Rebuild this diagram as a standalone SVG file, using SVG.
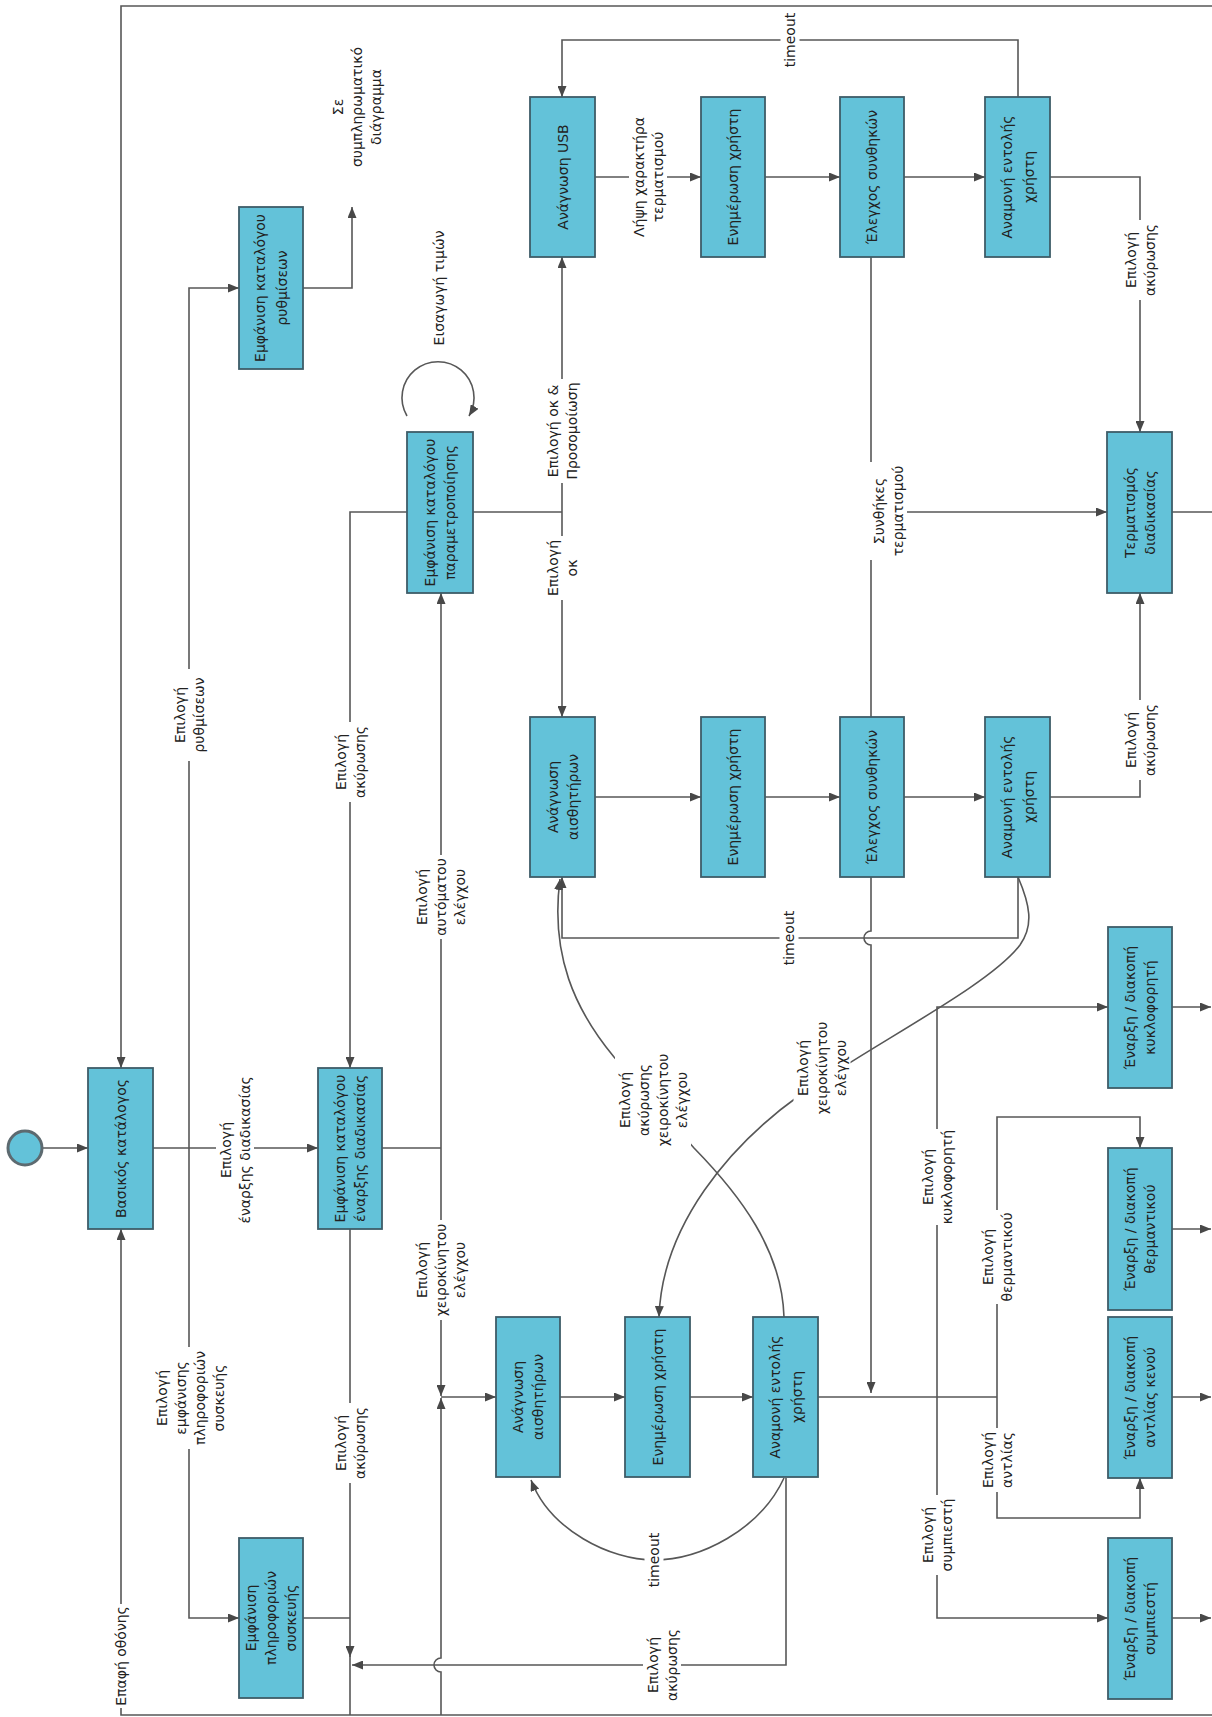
<svg xmlns="http://www.w3.org/2000/svg" width="1212" height="1717" viewBox="0 0 1212 1717">
<defs>
<style>
.box{fill:#63C2D9;stroke:#3E5C68;stroke-width:1.8}
.t{font-family:"DejaVu Sans",sans-serif;font-size:14px;fill:#222;text-anchor:middle}
.c{fill:none;stroke:#575757;stroke-width:1.6}
.a{marker-end:url(#ah)}
.bg{fill:#fff}
</style>
<marker id="ah" viewBox="0 0 11 9" refX="11" refY="4.5" markerWidth="11" markerHeight="9" markerUnits="userSpaceOnUse" orient="auto"><path d="M0,0 L11,4.5 L0,9 z" fill="#484848"/></marker>
</defs>
<rect width="1212" height="1717" fill="#fff"/>

<g id="connectors">
<path class="c a" d="M43,1148 H88"/>
<path class="c a" d="M153,1148 H318"/>
<path class="c a" d="M189,1148 V288 H239"/>
<path class="c a" d="M189,1148 V1618 H239"/>
<path class="c a" d="M303,288 H352 V207"/>
<path class="c a" d="M1212,6 H121 V1068"/>
<path class="c a" d="M1212,1715 H121 V1229"/>
<path class="c" d="M382,1148 H441"/>
<path class="c a" d="M441,1148 V593"/>
<path class="c a" d="M441,1148 V1396"/>
<path class="c a" d="M441,1715 V1672 A7,7 0 0 1 441,1658 V1398"/>
<path class="c a" d="M441,1397 H496"/>
<path class="c a" d="M407,512 H350 V1068"/>
<path class="c a" d="M350,1229 V1657"/>
<path class="c" d="M350,1655 V1715"/>
<path class="c" d="M303,1618 H350"/>
<path class="c a" d="M786,1478 V1665 H352"/>
<path class="c" d="M473,512 H562"/>
<path class="c a" d="M562,512 V257"/>
<path class="c a" d="M562,512 V717"/>
<path class="c a" d="M407,416 A36,36 0 1 1 469,416"/>
<path class="c a" d="M595,177 H701"/>
<path class="c a" d="M765,177 H840"/>
<path class="c a" d="M904,177 H985"/>
<path class="c a" d="M1018,97 V40 H562 V97"/>
<path class="c a" d="M1050,177 H1140 V432"/>
<path class="c a" d="M871,257 V512 H1107"/>
<path class="c" d="M871,717 V512"/>
<path class="c a" d="M595,797 H701"/>
<path class="c a" d="M765,797 H840"/>
<path class="c a" d="M904,797 H985"/>
<path class="c a" d="M1050,797 H1140 V593"/>
<path class="c a" d="M1018,877 V938 H562 V877"/>
<path class="c a" d="M871,877 V931 A7,7 0 0 0 871,945 V1393"/>
<path class="c a" d="M560,1397 H625"/>
<path class="c a" d="M690,1397 H753"/>
<path class="c" d="M818,1397 H997"/>
<path class="c a" d="M937,1397 V1007 H1108"/>
<path class="c a" d="M937,1397 V1618 H1108"/>
<path class="c a" d="M997,1397 V1117 H1140 V1148"/>
<path class="c a" d="M997,1397 V1518 H1140 V1478"/>
<path class="c a" d="M1172,1007 H1211"/>
<path class="c a" d="M1172,1229 H1211"/>
<path class="c a" d="M1172,1397 H1211"/>
<path class="c a" d="M1172,1618 H1211"/>
<path class="c" d="M1172,512 H1212"/>
<path class="c a" d="M1018,877 C1030,905 1034,925 1020,945 C990,985 880,1040 800,1095 C730,1145 662,1225 659,1317"/>
<path class="c a" d="M784,1317 C782,1250 740,1195 694,1148 L614,1057 C575,1010 550,955 560,879"/>
<path class="c a" d="M784,1478 C760,1530 700,1560 654,1560 C610,1560 550,1530 531,1480"/>
</g>

<g id="edge-labels">
<g transform="translate(189,715) rotate(-90)"><rect class="bg" x="-46" y="-19" width="92" height="38"/><text class="t"><tspan x="0" y="-4.5">Επιλογή</tspan><tspan x="0" y="14.5">ρυθμίσεων</tspan></text></g>
<g transform="translate(190,1398) rotate(-90)"><rect class="bg" x="-51" y="-38" width="102" height="76"/><text class="t"><tspan x="0" y="-23.5">Επιλογή</tspan><tspan x="0" y="-4.5">εμφάνισης</tspan><tspan x="0" y="14.5">πληροφοριών</tspan><tspan x="0" y="33.5">συσκευής</tspan></text></g>
<g transform="translate(235,1150) rotate(-90)"><rect class="bg" x="-78" y="-19" width="156" height="38"/><text class="t"><tspan x="0" y="-4.5">Επιλογή</tspan><tspan x="0" y="14.5">έναρξης διαδικασίας</tspan></text></g>
<g transform="translate(121,1656) rotate(-90)"><rect class="bg" x="-52" y="-9.5" width="104" height="19"/><text class="t"><tspan x="0" y="5">Επαφή οθόνης</tspan></text></g>
<g transform="translate(350,762) rotate(-90)"><rect class="bg" x="-40" y="-19" width="80" height="38"/><text class="t"><tspan x="0" y="-4.5">Επιλογή</tspan><tspan x="0" y="14.5">ακύρωσης</tspan></text></g>
<g transform="translate(350,1443) rotate(-90)"><rect class="bg" x="-40" y="-19" width="80" height="38"/><text class="t"><tspan x="0" y="-4.5">Επιλογή</tspan><tspan x="0" y="14.5">ακύρωσης</tspan></text></g>
<g transform="translate(441,897) rotate(-90)"><rect class="bg" x="-42" y="-28.5" width="84" height="57"/><text class="t"><tspan x="0" y="-14">Επιλογή</tspan><tspan x="0" y="5">αυτόματου</tspan><tspan x="0" y="24">ελέγχου</tspan></text></g>
<g transform="translate(441,1270) rotate(-90)"><rect class="bg" x="-50" y="-28.5" width="100" height="57"/><text class="t"><tspan x="0" y="-14">Επιλογή</tspan><tspan x="0" y="5">χειροκίνητου</tspan><tspan x="0" y="24">ελέγχου</tspan></text></g>
<g transform="translate(562,431) rotate(-90)"><rect class="bg" x="-52" y="-19" width="104" height="38"/><text class="t"><tspan x="0" y="-4.5">Επιλογή οκ &amp;</tspan><tspan x="0" y="14.5">Προσομοίωση</tspan></text></g>
<g transform="translate(562,568) rotate(-90)"><rect class="bg" x="-32" y="-19" width="64" height="38"/><text class="t"><tspan x="0" y="-4.5">Επιλογή</tspan><tspan x="0" y="14.5">οκ</tspan></text></g>
<g transform="translate(648,177) rotate(-90)"><rect class="bg" x="-61" y="-19" width="122" height="38"/><text class="t"><tspan x="0" y="-4.5">Λήψη χαρακτήρα</tspan><tspan x="0" y="14.5">τερματισμού</tspan></text></g>
<g transform="translate(790,40) rotate(-90)"><rect class="bg" x="-29" y="-9.5" width="58" height="19"/><text class="t"><tspan x="0" y="5">timeout</tspan></text></g>
<g transform="translate(1140,260) rotate(-90)"><rect class="bg" x="-40" y="-19" width="80" height="38"/><text class="t"><tspan x="0" y="-4.5">Επιλογή</tspan><tspan x="0" y="14.5">ακύρωσης</tspan></text></g>
<g transform="translate(888,511) rotate(-90)"><rect class="bg" x="-49" y="-19" width="98" height="38"/><text class="t"><tspan x="0" y="-4.5">Συνθήκες</tspan><tspan x="0" y="14.5">τερματισμού</tspan></text></g>
<g transform="translate(1140,740) rotate(-90)"><rect class="bg" x="-40" y="-19" width="80" height="38"/><text class="t"><tspan x="0" y="-4.5">Επιλογή</tspan><tspan x="0" y="14.5">ακύρωσης</tspan></text></g>
<g transform="translate(789,938) rotate(-90)"><rect class="bg" x="-29" y="-9.5" width="58" height="19"/><text class="t"><tspan x="0" y="5">timeout</tspan></text></g>
<g transform="translate(653,1100) rotate(-90)"><rect class="bg" x="-49" y="-38" width="98" height="76"/><text class="t"><tspan x="0" y="-23.5">Επιλογή</tspan><tspan x="0" y="-4.5">ακύρωσης</tspan><tspan x="0" y="14.5">χειροκίνητου</tspan><tspan x="0" y="33.5">ελέγχου</tspan></text></g>
<g transform="translate(822,1068) rotate(-90)"><rect class="bg" x="-49" y="-28.5" width="98" height="57"/><text class="t"><tspan x="0" y="-14">Επιλογή</tspan><tspan x="0" y="5">χειροκίνητου</tspan><tspan x="0" y="24">ελέγχου</tspan></text></g>
<g transform="translate(937,1177) rotate(-90)"><rect class="bg" x="-48" y="-19" width="96" height="38"/><text class="t"><tspan x="0" y="-4.5">Επιλογή</tspan><tspan x="0" y="14.5">κυκλοφορητή</tspan></text></g>
<g transform="translate(997,1257) rotate(-90)"><rect class="bg" x="-47" y="-19" width="94" height="38"/><text class="t"><tspan x="0" y="-4.5">Επιλογή</tspan><tspan x="0" y="14.5">θερμαντικού</tspan></text></g>
<g transform="translate(997,1460) rotate(-90)"><rect class="bg" x="-32" y="-19" width="64" height="38"/><text class="t"><tspan x="0" y="-4.5">Επιλογή</tspan><tspan x="0" y="14.5">αντλίας</tspan></text></g>
<g transform="translate(937,1535) rotate(-90)"><rect class="bg" x="-40" y="-19" width="80" height="38"/><text class="t"><tspan x="0" y="-4.5">Επιλογή</tspan><tspan x="0" y="14.5">συμπιεστή</tspan></text></g>
<g transform="translate(662,1665) rotate(-90)"><rect class="bg" x="-40" y="-19" width="80" height="38"/><text class="t"><tspan x="0" y="-4.5">Επιλογή</tspan><tspan x="0" y="14.5">ακύρωσης</tspan></text></g>
<g transform="translate(654,1560) rotate(-90)"><rect class="bg" x="-29" y="-9.5" width="58" height="19"/><text class="t"><tspan x="0" y="5">timeout</tspan></text></g>
<text class="t" transform="translate(439,288) rotate(-90)"><tspan x="0" y="5">Εισαγωγή τιμών</tspan></text>
<text class="t" transform="translate(357,107) rotate(-90)"><tspan x="0" y="-14">Σε</tspan><tspan x="0" y="5">συμπληρωματικό</tspan><tspan x="0" y="24">διάγραμμα</tspan></text>
</g>

<g id="start"><circle cx="25" cy="1148" r="17" fill="#63C2D9" stroke="#5d6a70" stroke-width="3"/></g>

<g id="n-basikos"><rect class="box" x="88" y="1068" width="65" height="161"/><text class="t" transform="translate(120.5,1148.5) rotate(-90)"><tspan x="0" y="5">Βασικός κατάλογος</tspan></text></g>
<g id="n-rythmiseis"><rect class="box" x="239" y="207" width="64" height="162"/><text class="t" transform="translate(271,288) rotate(-90)"><tspan x="0" y="-6">Εμφάνιση καταλόγου</tspan><tspan x="0" y="16">ρυθμίσεων</tspan></text></g>
<g id="n-plirofories"><rect class="box" x="239" y="1538" width="64" height="160"/><text class="t" transform="translate(271,1618) rotate(-90)"><tspan x="0" y="-15">Εμφάνιση</tspan><tspan x="0" y="5">πληροφοριών</tspan><tspan x="0" y="25">συσκευής</tspan></text></g>
<g id="n-enarxi"><rect class="box" x="318" y="1068" width="64" height="161"/><text class="t" transform="translate(350,1148.5) rotate(-90)"><tspan x="0" y="-5">Εμφάνιση καταλόγου</tspan><tspan x="0" y="15">έναρξης διαδικασίας</tspan></text></g>
<g id="n-parametro"><rect class="box" x="407" y="432" width="66" height="161"/><text class="t" transform="translate(440,512.5) rotate(-90)"><tspan x="0" y="-5">Εμφάνιση καταλόγου</tspan><tspan x="0" y="15">παραμετροποίησης</tspan></text></g>
<g id="n-usb-read"><rect class="box" x="530" y="97" width="65" height="160"/><text class="t" transform="translate(562.5,177) rotate(-90)"><tspan x="0" y="5">Ανάγνωση USB</tspan></text></g>
<g id="n-usb-inform"><rect class="box" x="701" y="97" width="64" height="160"/><text class="t" transform="translate(733,177) rotate(-90)"><tspan x="0" y="5">Ενημέρωση χρήστη</tspan></text></g>
<g id="n-usb-check"><rect class="box" x="840" y="97" width="64" height="160"/><text class="t" transform="translate(872,177) rotate(-90)"><tspan x="0" y="5">Έλεγχος συνθηκών</tspan></text></g>
<g id="n-usb-wait"><rect class="box" x="985" y="97" width="65" height="160"/><text class="t" transform="translate(1017.5,177) rotate(-90)"><tspan x="0" y="-6">Αναμονή εντολής</tspan><tspan x="0" y="16">χρήστη</tspan></text></g>
<g id="n-auto-read"><rect class="box" x="530" y="717" width="65" height="160"/><text class="t" transform="translate(562.5,797) rotate(-90)"><tspan x="0" y="-5">Ανάγνωση</tspan><tspan x="0" y="15">αισθητήρων</tspan></text></g>
<g id="n-auto-inform"><rect class="box" x="701" y="717" width="64" height="160"/><text class="t" transform="translate(733,797) rotate(-90)"><tspan x="0" y="5">Ενημέρωση χρήστη</tspan></text></g>
<g id="n-auto-check"><rect class="box" x="840" y="717" width="64" height="160"/><text class="t" transform="translate(872,797) rotate(-90)"><tspan x="0" y="5">Έλεγχος συνθηκών</tspan></text></g>
<g id="n-auto-wait"><rect class="box" x="985" y="717" width="65" height="160"/><text class="t" transform="translate(1017.5,797) rotate(-90)"><tspan x="0" y="-6">Αναμονή εντολής</tspan><tspan x="0" y="16">χρήστη</tspan></text></g>
<g id="n-end"><rect class="box" x="1107" y="432" width="65" height="161"/><text class="t" transform="translate(1139.5,512.5) rotate(-90)"><tspan x="0" y="-5">Τερματισμός</tspan><tspan x="0" y="15">διαδικασίας</tspan></text></g>
<g id="n-man-read"><rect class="box" x="496" y="1317" width="64" height="160"/><text class="t" transform="translate(528,1397) rotate(-90)"><tspan x="0" y="-5">Ανάγνωση</tspan><tspan x="0" y="15">αισθητήρων</tspan></text></g>
<g id="n-man-inform"><rect class="box" x="625" y="1317" width="65" height="160"/><text class="t" transform="translate(657.5,1397) rotate(-90)"><tspan x="0" y="5">Ενημέρωση χρήστη</tspan></text></g>
<g id="n-man-wait"><rect class="box" x="753" y="1317" width="65" height="160"/><text class="t" transform="translate(785.5,1397) rotate(-90)"><tspan x="0" y="-6">Αναμονή εντολής</tspan><tspan x="0" y="16">χρήστη</tspan></text></g>
<g id="n-circ"><rect class="box" x="1108" y="927" width="64" height="161"/><text class="t" transform="translate(1140,1007.5) rotate(-90)"><tspan x="0" y="-5">Έναρξη / διακοπή</tspan><tspan x="0" y="15">κυκλοφορητή</tspan></text></g>
<g id="n-heater"><rect class="box" x="1108" y="1148" width="64" height="162"/><text class="t" transform="translate(1140,1229) rotate(-90)"><tspan x="0" y="-5">Έναρξη / διακοπή</tspan><tspan x="0" y="15">θερμαντικού</tspan></text></g>
<g id="n-pump"><rect class="box" x="1108" y="1317" width="64" height="161"/><text class="t" transform="translate(1140,1397.5) rotate(-90)"><tspan x="0" y="-5">Έναρξη / διακοπή</tspan><tspan x="0" y="15">αντλίας κενού</tspan></text></g>
<g id="n-comp"><rect class="box" x="1108" y="1538" width="64" height="161"/><text class="t" transform="translate(1140,1618.5) rotate(-90)"><tspan x="0" y="-5">Έναρξη / διακοπή</tspan><tspan x="0" y="15">συμπιεστή</tspan></text></g>
</svg>
